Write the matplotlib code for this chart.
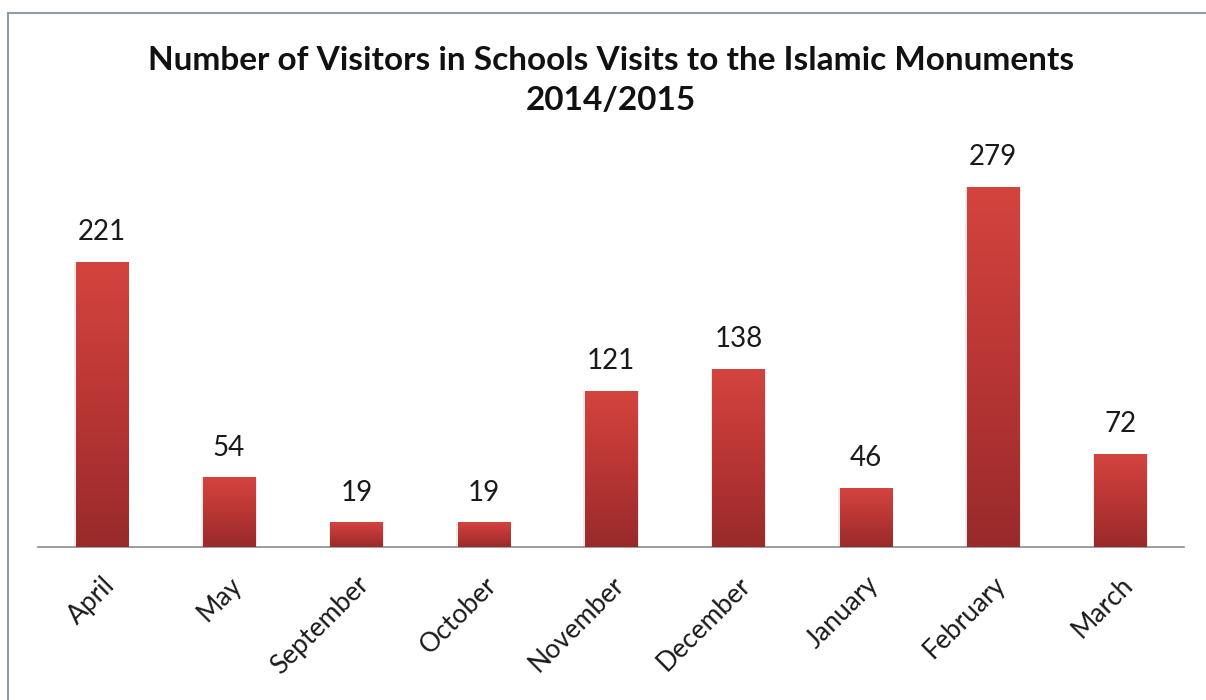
import numpy as np
import matplotlib.pyplot as plt
from matplotlib.colors import LinearSegmentedColormap
from matplotlib.lines import Line2D

# -------------------------
# Data
# -------------------------
months = ["April", "May", "September", "October", "November",
          "December", "January", "February", "March"]
visitors = [221, 54, 19, 19, 121, 138, 46, 279, 72]

plt.rcParams['font.family'] = ['Lato', 'DejaVu Sans']

fig = plt.figure(figsize=(12.06, 7.0), dpi=100)
ax = fig.add_axes([38 / 1206, 1 - 547 / 700, 1146 / 1206, 387 / 700])

x = np.arange(len(months))
bars = ax.bar(x, visitors, width=0.41, color="none", edgecolor="none", zorder=3)

# vertical red gradient in each bar (light on top, dark at the bottom)
cmap = LinearSegmentedColormap.from_list("redgrad", ["#992a2b", "#b93634", "#d4443f"])
grad = np.linspace(0, 1, 256).reshape(-1, 1)
for b in bars:
    x0, y0 = b.get_x(), b.get_y()
    w, h = b.get_width(), b.get_height()
    # soft shadow
    ax.bar(x0 + w / 2, h, width=w * 1.06, color="#000000", alpha=0.08, zorder=2)
    im = ax.imshow(grad, cmap=cmap, aspect="auto", origin="lower",
                   extent=(x0, x0 + w, y0, y0 + h), zorder=3)
    im.set_clip_path(b)

for xi, v in zip(x, visitors):
    ax.text(xi, v + 13, str(v), ha="center", va="bottom", fontsize=20, color="#1a1a1a")

ax.set_xlim(-0.5, len(months) - 0.5)
ax.set_ylim(0, 300)
ax.set_yticks([])
ax.set_xticks(x)
ax.set_xticklabels(months, rotation=45, ha="right", rotation_mode="anchor",
                   fontsize=19, color="#1a1a1a")
ax.tick_params(axis="x", length=0, pad=18)
for s in ["top", "right", "left"]:
    ax.spines[s].set_visible(False)
ax.spines["bottom"].set_color("#8c8c8c")
ax.spines["bottom"].set_linewidth(1.2)

fig.text(611 / 1206, 1 - 60 / 700, "Number of Visitors in Schools Visits to the Islamic Monuments",
         ha="center", va="center", fontsize=24, fontweight="bold", color="#111111")
fig.text(611 / 1206, 1 - 101 / 700, "2014/2015",
         ha="center", va="center", fontsize=24, fontweight="bold", color="#111111")

# chart frame (only top and left edges are visible)
fig.add_artist(Line2D([8 / 1206, 1], [1 - 13 / 700, 1 - 13 / 700],
                      transform=fig.transFigure, color="#8f9ea6", lw=1.5))
fig.add_artist(Line2D([8 / 1206, 8 / 1206], [0, 1 - 13 / 700],
                      transform=fig.transFigure, color="#8f9ea6", lw=1.5))

plt.savefig("out.png", dpi=100)
